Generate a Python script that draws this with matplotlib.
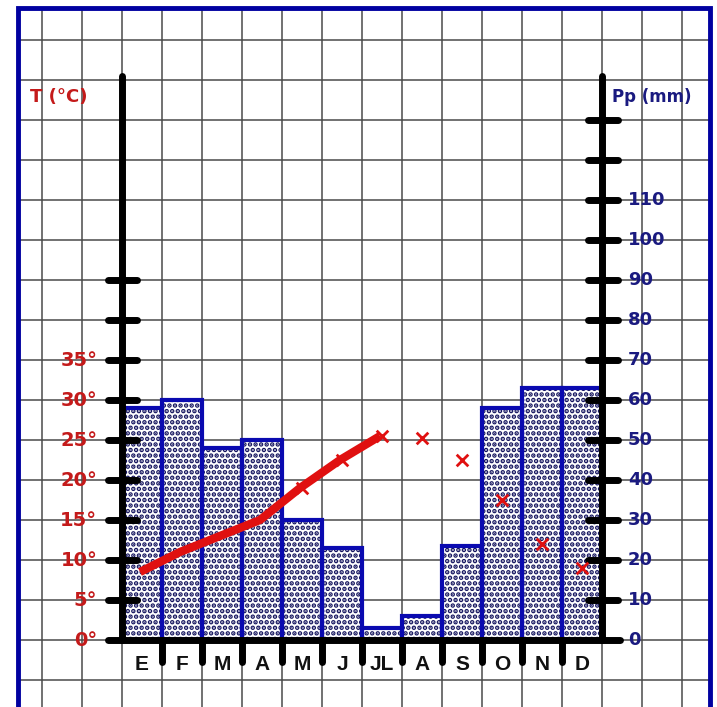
import numpy as np
import matplotlib.pyplot as plt
from matplotlib.patches import Rectangle

months = ['E', 'F', 'M', 'A', 'M', 'J', 'JL', 'A', 'S', 'O', 'N', 'D']
precip = [58, 60, 48, 50, 30, 23, 3, 6, 23.5, 58, 63, 63]      # mm
temp = [8.5, 11, 13, 15, 19, 22.5, 25.5, 25.3, 22.5, 17.5, 12, 9]  # °C
temp_ticks = [0, 5, 10, 15, 20, 25, 30, 35]
pp_ticks = [0, 10, 20, 30, 40, 50, 60, 70, 80, 90, 100, 110]

red = '#e01010'
dred = '#c41a1a'
navy = '#1a1a80'
blue = '#0a0ab0'

plt.rcParams['hatch.linewidth'] = 2.3

fig = plt.figure(figsize=(7.17, 7.07), dpi=100)
ax = fig.add_axes([0, 0, 1, 1])
ax.set_xlim(-3.05, 14.875)
ax.set_ylim(-16.75, 160)
ax.set_axis_off()

# squared paper
ax.vlines(np.arange(-2, 15), -20, 158, color='#4a4a4a', lw=1.1, zorder=0)
ax.hlines(np.arange(-10, 151, 10), -2.6, 14.7, color='#4a4a4a', lw=1.1, zorder=0)

# precipitation bars
x = np.arange(len(months)) + 0.5
ax.bar(x, precip, width=1, facecolor='white', edgecolor='#14145e', lw=0,
       hatch='...', zorder=2)
ax.bar(x, precip, width=1, facecolor='none', edgecolor=blue, lw=3, zorder=3)

# axes drawn by hand
ax.plot([0, 0], [0, 141], color='black', lw=5, solid_capstyle='round', zorder=4)
ax.plot([12, 12], [0, 141], color='black', lw=5, solid_capstyle='round', zorder=4)
ax.plot([-0.35, 12.45], [0, 0], color='black', lw=5, solid_capstyle='round', zorder=4)
ax.hlines(np.arange(10, 91, 10), -0.35, 0.38, color='black', lw=5, capstyle='round', zorder=4)
ax.hlines(np.arange(10, 131, 10), 11.65, 12.4, color='black', lw=5, capstyle='round', zorder=4)
ax.vlines(np.arange(1, 12), -5.5, 0, color='black', lw=5, capstyle='round', zorder=4)

for i, m in enumerate(months):
    ax.text(x[i], -6, m, ha='center', va='center', fontsize=15,
            fontweight='bold', family='Liberation Sans', color='#111111')

for v in pp_ticks:
    ax.text(12.65, v, str(v), ha='left', va='center', fontsize=13,
            fontweight='bold', color=navy)

ax.text(-2.3, 135.75, 'T (°C)', ha='left', va='center', fontsize=13,
        fontweight='bold', color=dred)
ax.text(12.25, 135.75, 'Pp (mm)', ha='left', va='center', fontsize=12,
        fontweight='bold', color=navy)

# temperature on its own scale (5 °C per grid square)
ax2 = ax.twinx()
ax2.set_ylim(-16.75 / 2, 80)
ax2.set_axis_off()
for v in temp_ticks:
    ax2.text(-0.62, v, f'{v}°', ha='right', va='center', fontsize=14,
             fontweight='bold', color=dred)
ax2.plot(x[:7] - 0.05, temp[:7], color=red, lw=6, solid_capstyle='butt', zorder=5)
ax2.scatter(x[4:], temp[4:], marker='x', s=70, color=red, linewidths=2, zorder=6)

# blue frame
ax.add_patch(Rectangle((-2.6, -30), 17.3, 188, fill=False, edgecolor='#0000a0',
                       lw=3.5, clip_on=False, zorder=7))

fig.savefig('out.png', dpi=100)
